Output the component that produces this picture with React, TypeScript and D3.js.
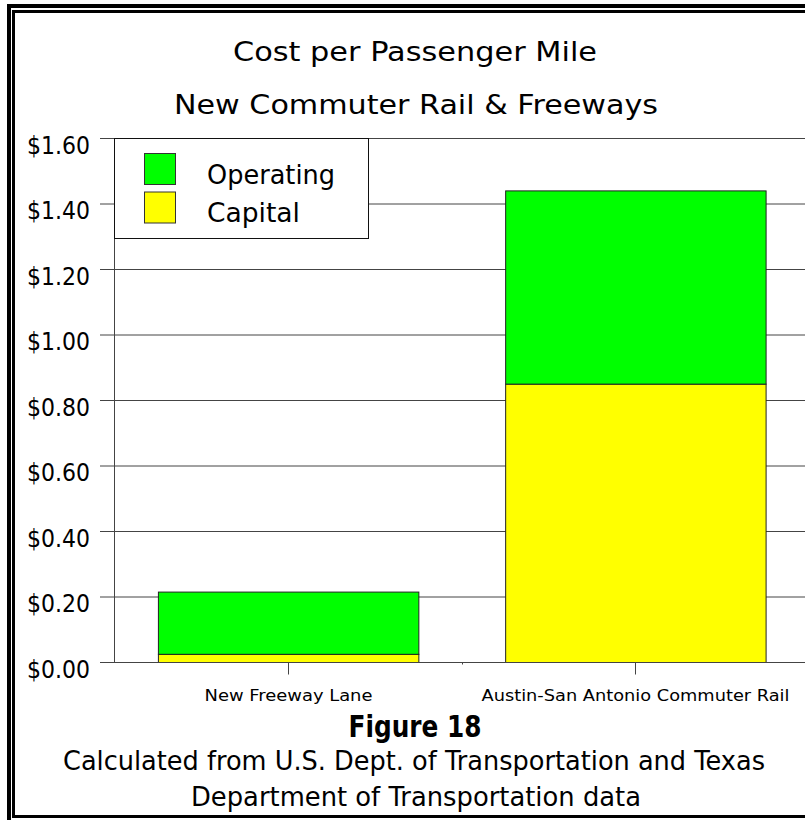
import React from "react";
import * as d3 from "d3";

const categories = ["New Freeway Lane", "Austin-San Antonio Commuter Rail"];
const capital = [0.025, 0.85];
const operating = [0.19, 0.59];
const seriesKeys = ["capital", "operating"];
const legendLabels = ["Operating", "Capital"];
const yTicks = [0, 0.2, 0.4, 0.6, 0.8, 1.0, 1.2, 1.4, 1.6];
const titleLines = ["Cost per Passenger Mile", "New Commuter Rail & Freeways"];
const figureLabel = "Figure 18";
const sourceLines = [
  "Calculated from U.S. Dept. of Transportation and Texas",
  "Department of Transportation data",
];

const W = 805;
const H = 820;
const FONT = "'DejaVu Sans', Verdana, sans-serif";
const COLORS: Record<string, string> = { capital: "#ffff00", operating: "#00ff00" };

export default function App() {
  const x = d3
    .scaleBand<string>()
    .domain(categories)
    .range([114.5, 809])
    .paddingInner(0.25)
    .paddingOuter(0.125);
  const y = d3.scaleLinear().domain([0, 1.6]).range([662.5, 138.5]);

  const rows = categories.map((c, i) => ({
    cat: c,
    capital: capital[i],
    operating: operating[i],
  }));
  const stacked = d3.stack<any>().keys(seriesKeys)(rows);

  const axisX = 114.5;
  const fmt = (v: number) => "$" + d3.format(".2f")(v);

  return (
    <svg
      width={W}
      height={H}
      style={{ position: "absolute", left: 0, top: 0, background: "#fff" }}
    >
      <rect x={0} y={0} width={W} height={H} fill="#fff" />
      {/* frame */}
      <rect x={9} y={6} width={W + 20} height={H + 20} fill="none" stroke="#000" strokeWidth={4} />
      <rect x={13.5} y={11.5} width={W + 20} height={805} fill="none" stroke="#000" strokeWidth={3} />

      {/* titles */}
      <text x={415} y={61} textAnchor="middle" fontFamily={FONT} fontSize={26} textLength={364} lengthAdjust="spacingAndGlyphs">
        {titleLines[0]}
      </text>
      <text x={416} y={114} textAnchor="middle" fontFamily={FONT} fontSize={26} textLength={484} lengthAdjust="spacingAndGlyphs">
        {titleLines[1]}
      </text>

      {/* gridlines + y ticks */}
      {yTicks.map((t) => (
        <g key={t}>
          <line x1={100} x2={W + 10} y1={y(t)} y2={y(t)} stroke="#444" strokeWidth={1} />
          <text
            x={90}
            y={y(t) + 15}
            textAnchor="end"
            fontFamily={FONT}
            fontSize={25}
            textLength={63}
            lengthAdjust="spacingAndGlyphs"
          >
            {fmt(t)}
          </text>
        </g>
      ))}

      {/* bars */}
      {stacked.map((layer) => (
        <g key={layer.key}>
          {layer.map((d, i) => (
            <rect
              key={i}
              x={(x(categories[i]) as number) + 0.5}
              y={y(d[1])}
              width={x.bandwidth()}
              height={y(d[0]) - y(d[1])}
              fill={COLORS[layer.key]}
              stroke="#222"
              strokeWidth={1}
            />
          ))}
        </g>
      ))}

      {/* axes */}
      <line x1={axisX} x2={axisX} y1={y(1.6)} y2={y(0)} stroke="#444" strokeWidth={1} />
      <line x1={axisX} x2={W + 10} y1={y(0)} y2={y(0)} stroke="#444" strokeWidth={1} />
      {categories.map((c) => {
        const cx = Math.round((x(c) as number) + x.bandwidth() / 2) + 0.5;
        return (
          <g key={c}>
            <line x1={cx} x2={cx} y1={y(0)} y2={y(0) + 12} stroke="#444" strokeWidth={1} />
            <text
              x={cx}
              y={701}
              textAnchor="middle"
              fontFamily={FONT}
              fontSize={15}
              textLength={c.length > 20 ? 308 : 168}
              lengthAdjust="spacingAndGlyphs"
            >
              {c}
            </text>
          </g>
        );
      })}
      {(() => {
        const mid = Math.round((x(categories[0]) as number) + x.step() - (x.step() - x.bandwidth()) / 2) + 0.5;
        return <line x1={mid} x2={mid} y1={y(0)} y2={y(0) + 2} stroke="#444" strokeWidth={1} />;
      })()}

      {/* legend */}
      <rect x={114.5} y={138.5} width={254} height={100} fill="#fff" stroke="#111" strokeWidth={1} />
      {legendLabels.map((lab, i) => {
        const key = lab === "Operating" ? "operating" : "capital";
        const ty = 153.5 + i * 38.5;
        return (
          <g key={lab}>
            <rect x={144.5} y={ty} width={31} height={31} fill={COLORS[key]} stroke="#333" strokeWidth={1} />
            <text
              x={207}
              y={184 + i * 38}
              fontFamily={FONT}
              fontSize={26}
              textLength={lab === "Operating" ? 128 : 93}
              lengthAdjust="spacingAndGlyphs"
            >
              {lab}
            </text>
          </g>
        );
      })}

      {/* figure caption */}
      <text x={415} y={737} textAnchor="middle" fontFamily={FONT} fontWeight="bold" fontSize={30} textLength={133} lengthAdjust="spacingAndGlyphs">
        {figureLabel}
      </text>
      <text x={414} y={770} textAnchor="middle" fontFamily={FONT} fontSize={26} textLength={702} lengthAdjust="spacingAndGlyphs">
        {sourceLines[0]}
      </text>
      <text x={416} y={806} textAnchor="middle" fontFamily={FONT} fontSize={26} textLength={450} lengthAdjust="spacingAndGlyphs">
        {sourceLines[1]}
      </text>
    </svg>
  );
}
